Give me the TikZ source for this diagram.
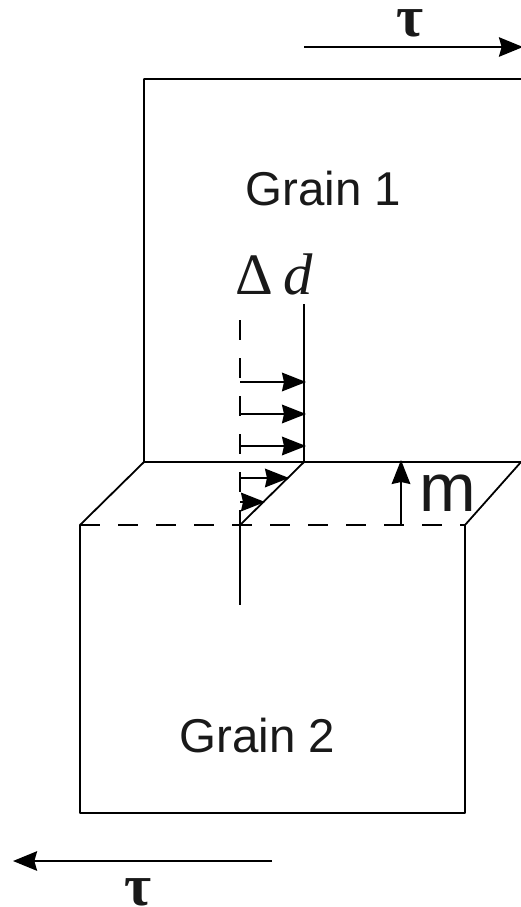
\documentclass[tikz,border=0pt]{standalone}
\usepackage{fontspec}
\setmainfont{Liberation Sans}
\newfontfamily\serifgreek{Liberation Serif}
\usetikzlibrary{positioning,arrows.meta}
\begin{document}
\begin{tikzpicture}[x=0.75pt,y=-0.75pt,
                    every node/.style={inner sep=0pt,text=black!90},
                    edge/.style={line width=1.35pt,black},
                    cutline/.style={edge,dash pattern=on 15pt off 13.5pt},
                    ar/.style={-{Stealth[length=18pt,width=14pt,inset=1.5pt]},line width=1.35pt},
                    shiftar/.style={-{Stealth[length=18pt,width=14.5pt,inset=2pt]},line width=1.9pt},
                    grainlabel/.style={font=\fontsize{35.6}{40}\selectfont},
                    taulabel/.style={font=\serifgreek\bfseries\fontsize{44}{48}\selectfont,anchor=base}]
      \useasboundingbox (0,0) rectangle (521,907);
      \coordinate (g1tl) at (144,79);
      \coordinate (g1tr) at (521,79);
      \coordinate (g1bl) at (144,462);
      \coordinate (g1br) at (521,462);
      \coordinate (g2tl) at (80,525);
      \coordinate (g2tr) at (465,525);
      \coordinate (g2bl) at (80,813);
      \coordinate (g2br) at (465,813);
      \coordinate (kink) at (304,462);
      \coordinate (linetop) at (304,304);
      \coordinate (oldtop) at (240,320);
      \coordinate (oldmid) at (240,525);
      \coordinate (oldend) at (240,605);
      \draw[edge,line join=round] (g1tr)--(g1tl)--(g1bl)--(g1br)--(g2tr)--(g2br)--(g2bl)--(g2tl)--(g1bl);
      \draw[cutline] (g2tl)--(g2tr);
      \draw[cutline] (oldtop)--(oldmid);
      \draw[edge] (oldmid)--(oldend);
      \draw[edge,line join=round] (linetop)--(kink)--(oldmid);
      % displacement arrows
      \foreach \ypos/\xend in {382/306,414/306,446/306,478/289,502/265}
        \draw[ar] (240,\ypos)--(\xend,\ypos);
      \coordinate (stepfoot) at (401,525);
      \coordinate (stephead) at (401,460);
      \draw[ar] (stepfoot)--(stephead);
      \coordinate (taustart) at (304,47);
      \coordinate (tauend) at (523,47);
      \coordinate (lowstart) at (272,861);
      \coordinate (lowend) at (13,861);
      \draw[shiftar] (taustart)--(tauend);
      \draw[shiftar] (lowstart)--(lowend);
      \node[taulabel] (tautop) at (410,36) {τ};
      \node[taulabel] (taubot) at (138,905) {τ};
      \node[grainlabel] (grain1) at (323.5,189) {Grain 1};
      \node[grainlabel] (grain2) at (257.5,736) {Grain 2};
      \node[font=\serifgreek\fontsize{44}{46}\selectfont] (delta) at (274,274) {Δ\,\textit{d}};
      \node[font=\fontsize{51}{54}\selectfont] (step) at (448,493) {m};
    \end{tikzpicture}
\end{document}
